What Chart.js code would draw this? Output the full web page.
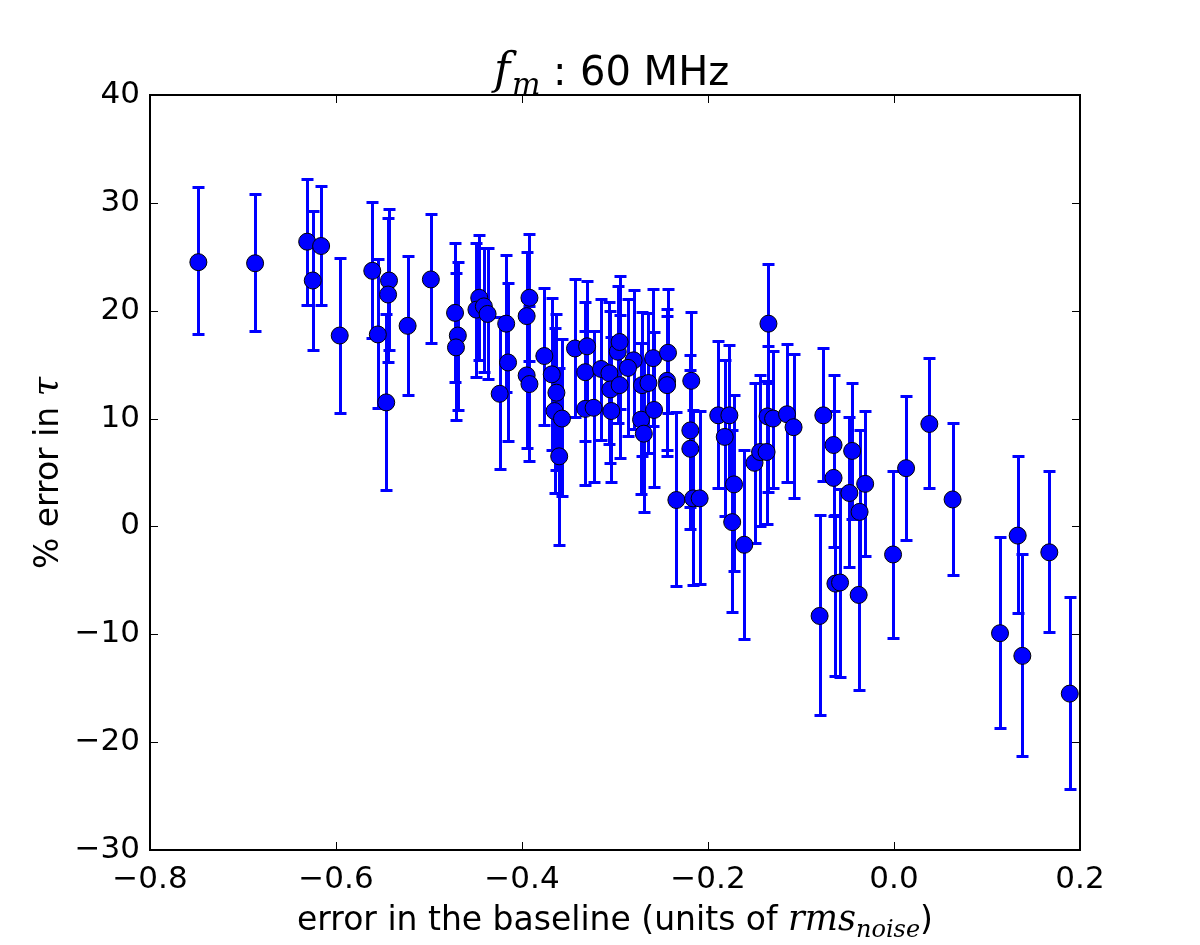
<!DOCTYPE html>
<html>
<head>
<meta charset="utf-8">
<script src="https://cdn.jsdelivr.net/npm/chart.js@4.4.0/dist/chart.umd.min.js"></script>
<style>
  body { margin: 0; background: #fff; }
  canvas { display: block; }
</style>
</head>
<body>
<canvas id="chart" width="1200" height="945"></canvas>
<script>
// baseline error (x), % error in tau (y), with upper / lower ends of the error bars
var xVals = [-0.748, -0.687, -0.631, -0.625, -0.616, -0.596, -0.561, -0.555, -0.543, -0.544,
             -0.546, -0.523, -0.498, -0.472, -0.469, -0.471, -0.446, -0.449, -0.441, -0.437,
             -0.417, -0.415, -0.424, -0.392, -0.395, -0.395, -0.392, -0.376, -0.368, -0.363,
             -0.365, -0.357, -0.360, -0.343, -0.330, -0.332, -0.332, -0.323, -0.315, -0.306,
             -0.305, -0.304, -0.297, -0.295, -0.295, -0.280, -0.286, -0.271, -0.264, -0.272,
             -0.269, -0.259, -0.258, -0.243, -0.244, -0.244, -0.218, -0.219, -0.219, -0.234,
             -0.216, -0.209, -0.189, -0.177, -0.182, -0.172, -0.174, -0.161, -0.150, -0.144,
             -0.137, -0.135, -0.136, -0.130, -0.115, -0.108, -0.076, -0.080, -0.065, -0.065,
             -0.063, -0.058, -0.045, -0.048, -0.031, -0.037, -0.038, -0.001, 0.013, 0.038,
             0.063, 0.114, 0.133, 0.138, 0.167, 0.189];
var yVals = [24.5, 24.4, 26.4, 22.8, 26.0, 17.7, 23.7, 17.8, 22.8, 21.5,
             11.5, 18.6, 22.9, 19.8, 17.7, 16.6, 21.2, 20.1, 20.4, 19.7,
             18.8, 15.2, 12.3, 21.2, 19.5, 14.0, 13.2, 15.8, 14.1, 12.4,
             10.7, 10.0, 6.5, 16.5, 16.7, 14.3, 10.9, 11.0, 14.6, 14.2,
             12.7, 10.7, 16.2, 17.1, 13.1, 15.4, 14.7, 13.1, 13.3, 9.9,
             8.6, 15.6, 10.8, 16.1, 13.5, 13.1, 13.5, 8.9, 7.2, 2.45,
             2.6, 2.6, 10.3, 10.3, 8.3, 3.9, 0.4, -1.7, 5.9, 6.9,
             6.9, 18.8, 10.2, 10.0, 10.4, 9.2, 10.3, -8.3, 7.55, 4.5,
             -5.3, -5.2, 7.0, 3.1, 3.95, 1.35, -6.35, -2.6, 5.4, 9.5,
             2.5, -9.9, -0.85, -12.0, -2.4, -15.5];
var yHigh = [31.5, 30.8, 32.2, 29.2, 31.6, 24.9, 30.1, 24.8, 29.4, 28.6,
             19.7, 25.1, 29.0, 26.3, 24.5, 23.5, 27.0, 26.3, 25.8, 25.8,
             25.2, 22.6, 19.4, 27.1, 25.4, 21.0, 20.4, 22.1, 21.2, 19.7,
             18.4, 17.4, 14.7, 22.9, 22.8, 20.8, 18.1, 18.1, 21.1, 20.8,
             20.0, 17.6, 22.3, 23.2, 19.6, 21.9, 21.1, 19.9, 19.8, 17.0,
             15.5, 22.0, 18.0, 22.0, 20.2, 19.5, 19.9, 15.9, 14.5, 10.6,
             10.8, 10.7, 17.2, 16.8, 15.4, 12.2, 8.9, 7.1, 13.3, 14.0,
             13.5, 24.3, 16.7, 16.3, 16.9, 16.0, 16.5, 1.1, 14.0, 10.7,
             1.1, 3.5, 13.3, 10.1, 10.7, 8.9, 1.2, 5.1, 12.1, 15.6,
             9.6, -1.0, 6.5, -2.55, 5.1, -6.55];
var yLow = [17.8, 18.1, 20.5, 16.4, 20.5, 10.5, 17.5, 11.0, 16.4, 15.2,
            3.4, 12.2, 17.0, 13.4, 10.8, 9.9, 15.4, 13.9, 14.3, 13.7,
            12.5, 7.9, 5.3, 15.3, 13.5, 7.3, 6.1, 9.4, 7.1, 5.2,
            3.1, 2.8, -1.7, 10.1, 10.5, 7.9, 3.8, 4.1, 8.0, 7.6,
            5.9, 4.1, 9.6, 10.9, 6.3, 9.0, 8.4, 6.5, 6.8, 3.0,
            1.3, 9.3, 3.7, 10.5, 7.1, 6.5, 7.1, 1.8, -0.2, -5.5,
            -5.4, -5.3, 3.6, 3.6, 1.0, -4.1, -7.9, -10.4, -1.5, 0.0,
            0.2, 13.3, 3.2, 3.6, 4.1, 2.6, 4.2, -17.5, 1.0, -1.9,
            -13.9, -14.0, 0.7, -3.8, -2.7, -6.2, -15.2, -10.3, -1.3, 3.6,
            -4.5, -18.7, -8.0, -21.25, -9.75, -24.3];

var xTicks = [-0.8, -0.6, -0.4, -0.2, 0.0, 0.2];
var yTicks = [-30, -20, -10, 0, 10, 20, 30, 40];

var blue = '#0000ff';
var points = xVals.map(function(x, i) { return {x: x, y: yVals[i]}; });

function minus(s) { return String(s).replace('-', '\u2212'); }

var errorBars = {
    id: 'errorBars',
    beforeDatasetsDraw: function(chart) {
        var ctx = chart.ctx, xs = chart.scales.x, ys = chart.scales.y;
        ctx.save();
        ctx.strokeStyle = blue;
        ctx.lineWidth = 3;
        for (var i = 0; i < xVals.length; i++) {
            var px = Math.round(xs.getPixelForValue(xVals[i])) + 0.5;
            var top = Math.round(ys.getPixelForValue(yHigh[i])) + 0.5;
            var bot = Math.round(ys.getPixelForValue(yLow[i])) + 0.5;
            ctx.beginPath();
            ctx.moveTo(px, top); ctx.lineTo(px, bot);
            ctx.moveTo(px - 6, top); ctx.lineTo(px + 6, top);
            ctx.moveTo(px - 6, bot); ctx.lineTo(px + 6, bot);
            ctx.stroke();
        }
        ctx.restore();
    }
};

var frame = {
    id: 'frame',
    afterDraw: function(chart) {
        var ctx = chart.ctx, a = chart.chartArea, xs = chart.scales.x, ys = chart.scales.y;
        ctx.save();
        ctx.strokeStyle = '#000';
        ctx.lineWidth = 1;
        ctx.beginPath();
        xTicks.forEach(function(t) {
            var p = Math.round(xs.getPixelForValue(t)) + 0.5;
            ctx.moveTo(p, a.bottom); ctx.lineTo(p, a.bottom - 8);
            ctx.moveTo(p, a.top); ctx.lineTo(p, a.top + 8);
        });
        yTicks.forEach(function(t) {
            var p = Math.round(ys.getPixelForValue(t)) + 0.5;
            ctx.moveTo(a.left, p); ctx.lineTo(a.left + 8, p);
            ctx.moveTo(a.right, p); ctx.lineTo(a.right - 8, p);
        });
        ctx.stroke();
        ctx.lineWidth = 2;
        ctx.strokeRect(a.left, a.top, a.right - a.left, a.bottom - a.top);

        ctx.fillStyle = '#000';
        ctx.textBaseline = 'alphabetic';
        ctx.textAlign = 'left';

        // title
        ctx.font = 'italic 44px "DejaVu Serif"';
        ctx.fillText('f', 494, 84);
        ctx.font = 'italic 30px "DejaVu Serif"';
        ctx.fillText('m', 512, 94);
        ctx.font = '40px "DejaVu Sans"';
        ctx.fillText(':', 553, 85);
        ctx.fillText('60 MHz', 580, 85);

        // x label
        var cx = (a.left + a.right) / 2;
        var s1 = 'error in the baseline (units of ';
        ctx.font = '33px "DejaVu Sans"';
        var w1 = ctx.measureText(s1).width, w4 = ctx.measureText(')').width;
        ctx.font = 'italic 35px "DejaVu Serif"';
        var w2 = ctx.measureText('rms').width;
        ctx.font = 'italic 24px "DejaVu Serif"';
        var w3 = ctx.measureText('noise').width;
        var lx = cx - (w1 + w2 + w3 + w4) / 2, ly = 930;
        ctx.font = '33px "DejaVu Sans"';
        ctx.fillText(s1, lx, ly);
        ctx.font = 'italic 35px "DejaVu Serif"';
        ctx.fillText('rms', lx + w1, ly);
        ctx.font = 'italic 24px "DejaVu Serif"';
        ctx.fillText('noise', lx + w1 + w2, ly + 7);
        ctx.font = '33px "DejaVu Sans"';
        ctx.fillText(')', lx + w1 + w2 + w3, ly);

        // y label
        ctx.translate(58, 473);
        ctx.rotate(-Math.PI / 2);
        var t1 = '% error in ';
        ctx.font = '33px "DejaVu Sans"';
        var wt1 = ctx.measureText(t1).width;
        ctx.font = 'italic 35px "DejaVu Serif"';
        var wt2 = ctx.measureText('\u03c4').width;
        var sx = -(wt1 + wt2) / 2;
        ctx.font = '33px "DejaVu Sans"';
        ctx.fillText(t1, sx, 0);
        ctx.font = 'italic 35px "DejaVu Serif"';
        ctx.fillText('\u03c4', sx + wt1, 0);
        ctx.restore();
    }
};

new Chart(document.getElementById('chart'), {
    type: 'scatter',
    data: {
        datasets: [{
            data: points,
            pointRadius: 8.5,
            pointHoverRadius: 8.5,
            backgroundColor: blue,
            borderColor: '#000',
            borderWidth: 1
        }]
    },
    options: {
        responsive: false,
        animation: false,
        devicePixelRatio: 1,
        layout: {padding: {left: 0, top: 95, right: 120, bottom: 0}},
        plugins: {legend: {display: false}, tooltip: {enabled: false}},
        scales: {
            x: {
                type: 'linear',
                min: -0.8, max: 0.2,
                afterFit: function(s) { s.height = 95; },
                afterBuildTicks: function(s) { s.ticks = xTicks.map(function(v) { return {value: v}; }); },
                grid: {display: false, drawTicks: false},
                border: {display: false},
                ticks: {
                    padding: 11,
                    color: '#000',
                    font: {family: 'DejaVu Sans', size: 31},
                    maxRotation: 0,
                    callback: function(v) { return minus(Number(v).toFixed(1)); }
                }
            },
            y: {
                type: 'linear',
                min: -30, max: 40,
                afterFit: function(s) { s.width = 150; },
                afterBuildTicks: function(s) { s.ticks = yTicks.map(function(v) { return {value: v}; }); },
                grid: {display: false, drawTicks: false},
                border: {display: false},
                ticks: {
                    padding: 10,
                    color: '#000',
                    font: {family: 'DejaVu Sans', size: 31},
                    callback: function(v) { return minus(v); }
                }
            }
        }
    },
    plugins: [errorBars, frame]
});
</script>
</body>
</html>
